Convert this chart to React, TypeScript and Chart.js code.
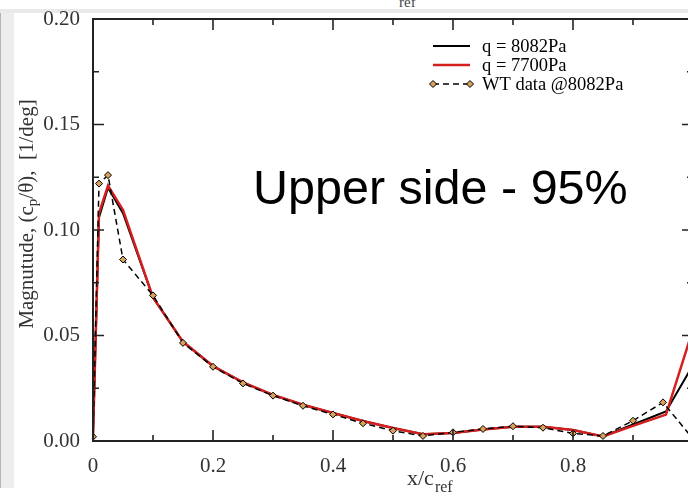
import React, { useEffect, useRef } from 'react';
import { Chart, registerables } from 'chart.js';
Chart.register(...registerables);

// WT data @8082Pa
const xWT = [0, 0.01, 0.025, 0.05, 0.1, 0.15, 0.2, 0.25, 0.3, 0.35, 0.4, 0.45, 0.5, 0.55, 0.6, 0.65, 0.7, 0.75, 0.8, 0.85, 0.9, 0.95, 1.0];
const wtValues = [0.002, 0.122, 0.126, 0.086, 0.069, 0.0465, 0.0352, 0.0273, 0.0215, 0.0167, 0.0126, 0.0084, 0.0049, 0.0024, 0.0041, 0.0057, 0.007, 0.0063, 0.0036, 0.0024, 0.0096, 0.0183, 0.001];

// CFD results
const xCFD = [0, 0.01, 0.025, 0.05, 0.1, 0.15, 0.2, 0.25, 0.3, 0.35, 0.4, 0.45, 0.5, 0.55, 0.6, 0.65, 0.7, 0.75, 0.8, 0.85, 0.9, 0.955, 1.0];
const q8082 = [0.002, 0.106, 0.12, 0.108, 0.068, 0.047, 0.0355, 0.0278, 0.0218, 0.0172, 0.0133, 0.0095, 0.0062, 0.0032, 0.0038, 0.0055, 0.0068, 0.0068, 0.0052, 0.0022, 0.0078, 0.014, 0.036];
const q7700 = [0.002, 0.108, 0.121, 0.1095, 0.068, 0.047, 0.0355, 0.0278, 0.0218, 0.0172, 0.0133, 0.0095, 0.0062, 0.0032, 0.0038, 0.0055, 0.0068, 0.0068, 0.0052, 0.0022, 0.0072, 0.0125, 0.053];

const xMajorTicks = [0, 0.2, 0.4, 0.6, 0.8, 1.0];
const xMinorTicks = [0.1, 0.3, 0.5, 0.7, 0.9];
const yMajorTicks = [0, 0.05, 0.1, 0.15, 0.2];
const yMinorTicks = [0.025, 0.075, 0.125, 0.175];

const legendLabels = ['q = 8082Pa', 'q = 7700Pa', 'WT data @8082Pa'];
const annotationText = 'Upper side - 95%';

const SERIF = '"Liberation Serif", "Times New Roman", serif';
const SANS = '"Liberation Sans", Arial, sans-serif';
const MARKER_FILL = '#d9a25a';

const decorPlugin = {
  id: 'decor',
  afterDatasetsDraw(chart: any) {
    const { ctx, chartArea: a, scales } = chart;
    const x = scales.x, y = scales.y;
    ctx.save();
    ctx.strokeStyle = '#222';
    ctx.lineWidth = 1.6;
    ctx.beginPath();
    const tick = (x1: number, y1: number, x2: number, y2: number) => { ctx.moveTo(x1, y1); ctx.lineTo(x2, y2); };
    xMajorTicks.forEach(v => { const p = x.getPixelForValue(v); tick(p, a.bottom, p, a.bottom - 11); tick(p, a.top, p, a.top + 11); });
    xMinorTicks.forEach(v => { const p = x.getPixelForValue(v); tick(p, a.bottom, p, a.bottom - 6); tick(p, a.top, p, a.top + 6); });
    yMajorTicks.forEach(v => { const p = y.getPixelForValue(v); tick(a.left, p, a.left + 11, p); tick(a.right, p, a.right - 11, p); });
    yMinorTicks.forEach(v => { const p = y.getPixelForValue(v); tick(a.left, p, a.left + 6, p); tick(a.right, p, a.right - 6, p); });
    ctx.stroke();
    ctx.lineWidth = 2;
    ctx.strokeRect(a.left, a.top, a.right - a.left, a.bottom - a.top);
    ctx.restore();
  },
  afterDraw(chart: any) {
    const { ctx } = chart;
    ctx.save();
    // Legend
    const lx1 = 433, lx2 = 470, tx = 482;
    const rows = [46, 65, 84];
    ctx.font = '18.5px ' + SERIF;
    ctx.fillStyle = '#000';
    ctx.textBaseline = 'middle';
    ctx.textAlign = 'left';
    ctx.lineWidth = 2;
    ctx.strokeStyle = '#000';
    ctx.beginPath(); ctx.moveTo(lx1, rows[0]); ctx.lineTo(lx2, rows[0]); ctx.stroke();
    ctx.strokeStyle = '#d41f1f';
    ctx.lineWidth = 2.5;
    ctx.beginPath(); ctx.moveTo(lx1, rows[1]); ctx.lineTo(lx2, rows[1]); ctx.stroke();
    ctx.strokeStyle = '#000';
    ctx.lineWidth = 1.5;
    ctx.setLineDash([6, 4]);
    ctx.beginPath(); ctx.moveTo(lx1, rows[2]); ctx.lineTo(lx2, rows[2]); ctx.stroke();
    ctx.setLineDash([]);
    [lx1, lx2].forEach(px => {
      ctx.beginPath();
      ctx.moveTo(px, rows[2] - 3.5); ctx.lineTo(px + 3.5, rows[2]); ctx.lineTo(px, rows[2] + 3.5); ctx.lineTo(px - 3.5, rows[2]); ctx.closePath();
      ctx.fillStyle = MARKER_FILL; ctx.fill(); ctx.lineWidth = 1; ctx.strokeStyle = '#000'; ctx.stroke();
    });
    ctx.fillStyle = '#000';
    legendLabels.forEach((t, i) => ctx.fillText(t, tx, rows[i] + 1));

    // Annotation
    ctx.font = '48.5px ' + SANS;
    ctx.fillText(annotationText, 253, 191);

    // X title
    ctx.font = '22px ' + SERIF;
    ctx.textBaseline = 'alphabetic';
    ctx.fillStyle = '#333';
    ctx.fillText('x/c', 407, 485);
    const w1 = ctx.measureText('x/c').width;
    ctx.font = '16px ' + SERIF;
    ctx.fillText('ref', 407 + w1 + 1, 492);

    // Y title
    ctx.translate(27, 214);
    ctx.rotate(-Math.PI / 2);
    const p1 = 'Magnutude, (c', p2 = 'p', p3 = '/\u03b8),  [1/deg]';
    ctx.font = '21px ' + SERIF;
    const a1 = ctx.measureText(p1).width, a3 = ctx.measureText(p3).width;
    ctx.font = '15px ' + SERIF;
    const a2 = ctx.measureText(p2).width;
    const total = a1 + a2 + a3;
    let cx = -total / 2;
    ctx.textBaseline = 'middle';
    ctx.font = '21px ' + SERIF;
    ctx.fillText(p1, cx, 0); cx += a1;
    ctx.font = '15px ' + SERIF;
    ctx.fillText(p2, cx, 6); cx += a2;
    ctx.font = '21px ' + SERIF;
    ctx.fillText(p3, cx, 0);
    ctx.restore();
  },
};

export default function App() {
  const ref = useRef<HTMLCanvasElement>(null);
  useEffect(() => {
    if (!ref.current) return;
    const chart = new Chart(ref.current, {
      type: 'scatter',
      data: {
        datasets: [
          {
            label: legendLabels[2],
            data: xWT.map((v, i) => ({ x: v, y: wtValues[i] })),
            showLine: true,
            borderColor: '#000',
            borderWidth: 1.5,
            borderDash: [6, 4],
            pointStyle: 'rectRot',
            pointRadius: 3.5,
            pointBackgroundColor: MARKER_FILL,
            pointBorderColor: '#000',
            pointBorderWidth: 1,
            order: 0,
          },
          {
            label: legendLabels[1],
            data: xCFD.map((v, i) => ({ x: v, y: q7700[i] })),
            showLine: true,
            borderColor: '#d41f1f',
            borderWidth: 2.5,
            pointRadius: 0,
            order: 1,
          },
          {
            label: legendLabels[0],
            data: xCFD.map((v, i) => ({ x: v, y: q8082[i] })),
            showLine: true,
            borderColor: '#000',
            borderWidth: 2,
            pointRadius: 0,
            order: 2,
          },
        ],
      },
      options: {
        responsive: false,
        animation: false,
        layout: { padding: { left: 0, top: 19, right: 37, bottom: 0 } },
        plugins: { legend: { display: false }, tooltip: { enabled: false } },
        scales: {
          x: {
            type: 'linear',
            min: 0,
            max: 1,
            grid: { display: false },
            border: { display: false },
            afterFit: (s: any) => { s.height = 52; },
            ticks: {
              stepSize: 0.2,
              autoSkip: false,
              maxRotation: 0,
              padding: 5,
              color: '#333',
              font: { family: SERIF, size: 21 },
              callback: (v: any) => (v === 0 ? '0' : Math.abs(v - 1) < 1e-9 ? '' : Number(v).toFixed(1)),
            },
          },
          y: {
            type: 'linear',
            min: 0,
            max: 0.2,
            grid: { display: false },
            border: { display: false },
            afterFit: (s: any) => { s.width = 93; },
            ticks: {
              stepSize: 0.05,
              autoSkip: false,
              padding: 5,
              color: '#333',
              font: { family: SERIF, size: 21 },
              callback: (v: any) => Number(v).toFixed(2),
            },
          },
        },
      },
      plugins: [decorPlugin],
    });
    return () => chart.destroy();
  }, []);

  return (
    <div style={{ position: 'fixed', left: 0, top: 0, width: 688, height: 493, overflow: 'hidden', background: '#fff' }}>
      <div style={{ position: 'absolute', left: 0, top: 9, width: 688, height: 4, background: '#e9e9e9' }} />
      <div style={{ position: 'absolute', left: 0, top: 13, width: 14, height: 475, background: '#ededed' }} />
      <div style={{ position: 'absolute', left: 0, top: 13, width: 1, height: 475, background: '#b5b5b5' }} />
      <div style={{ position: 'absolute', left: 399, top: -6, font: '15px ' + SERIF, color: '#444' }}>ref</div>
      <canvas ref={ref} width={730} height={493} style={{ position: 'absolute', left: 0, top: 0 }} />
    </div>
  );
}
